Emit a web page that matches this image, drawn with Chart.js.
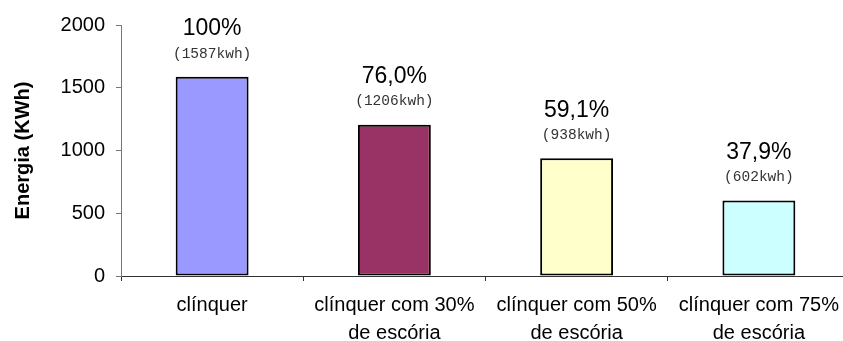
<!DOCTYPE html>
<html>
<head>
<meta charset="utf-8">
<script src="https://cdn.jsdelivr.net/npm/chart.js@4"></script>
<style>
  html, body { margin: 0; padding: 0; background: #fff; overflow: hidden; }
  #wrap { position: relative; width: 860px; height: 341px; }
</style>
</head>
<body>
<div id="wrap"><canvas id="c"></canvas></div>
<script>
// Energy needed per cement type
const categories = [
  ['clínquer'],
  ['clínquer com 30%', 'de escória'],
  ['clínquer com 50%', 'de escória'],
  ['clínquer com 75%', 'de escória']
];
const energyKwh = [1587, 1206, 938, 602];
const percentLabels = ['100%', '76,0%', '59,1%', '37,9%'];
const barColors = ['#9999FF', '#993366', '#FFFFCC', '#CCFFFF'];
const yTicks = { min: 0, max: 2000, step: 500 };

const SANS = "'Liberation Sans', Arial, sans-serif";
const MONO = "'Liberation Mono', 'Courier New', monospace";

// Writes the percentage and the kWh figure above each bar
const valueLabels = {
  id: 'valueLabels',
  afterDatasetsDraw(chart) {
    const ctx = chart.ctx;
    const meta = chart.getDatasetMeta(0);
    ctx.save();
    ctx.textAlign = 'center';
    ctx.textBaseline = 'middle';
    meta.data.forEach((bar, i) => {
      ctx.fillStyle = '#000';
      ctx.font = '23px ' + SANS;
      ctx.fillText(percentLabels[i], bar.x, bar.y - 48);
      ctx.fillStyle = '#333';
      ctx.font = '14.5px ' + MONO;
      ctx.fillText('(' + energyKwh[i] + 'kwh)', bar.x, bar.y - 23);
    });
    ctx.restore();
  }
};

new Chart(document.getElementById('c'), {
  type: 'bar',
  data: {
    labels: categories,
    datasets: [{
      data: energyKwh,
      backgroundColor: barColors,
      borderColor: '#000',
      borderWidth: 2,
      borderSkipped: false,
      categoryPercentage: 1.0,
      barPercentage: 0.4
    }]
  },
  options: {
    responsive: true,
    maintainAspectRatio: false,
    animation: false,
    layout: { padding: { left: 0, right: 10, top: 25, bottom: 0 } },
    plugins: {
      legend: { display: false },
      tooltip: { enabled: false }
    },
    scales: {
      x: {
        afterFit(scale) { scale.height = 65; },
        border: { display: true, color: '#333', width: 1 },
        grid: { display: true, drawOnChartArea: false, drawTicks: true, tickLength: 5, color: '#333', offset: true },
        ticks: {
          color: '#000',
          font: { family: SANS, size: 20, lineHeight: 1.38 },
          padding: 11,
          maxRotation: 0,
          autoSkip: false
        }
      },
      y: {
        min: yTicks.min,
        max: yTicks.max,
        afterFit(scale) { scale.width = 121; },
        border: { display: true, color: '#777', width: 1 },
        grid: { display: true, drawOnChartArea: false, drawTicks: true, tickLength: 5, color: '#777' },
        ticks: {
          stepSize: yTicks.step,
          color: '#000',
          font: { family: SANS, size: 20 },
          padding: 11,
          callback: (v) => String(v)
        },
        title: {
          display: true,
          text: 'Energia (KWh)',
          color: '#000',
          font: { family: SANS, size: 20, weight: 'bold', lineHeight: 1.2 },
          padding: { top: 11, bottom: 0 }
        }
      }
    }
  },
  plugins: [valueLabels]
});
</script>
</body>
</html>
